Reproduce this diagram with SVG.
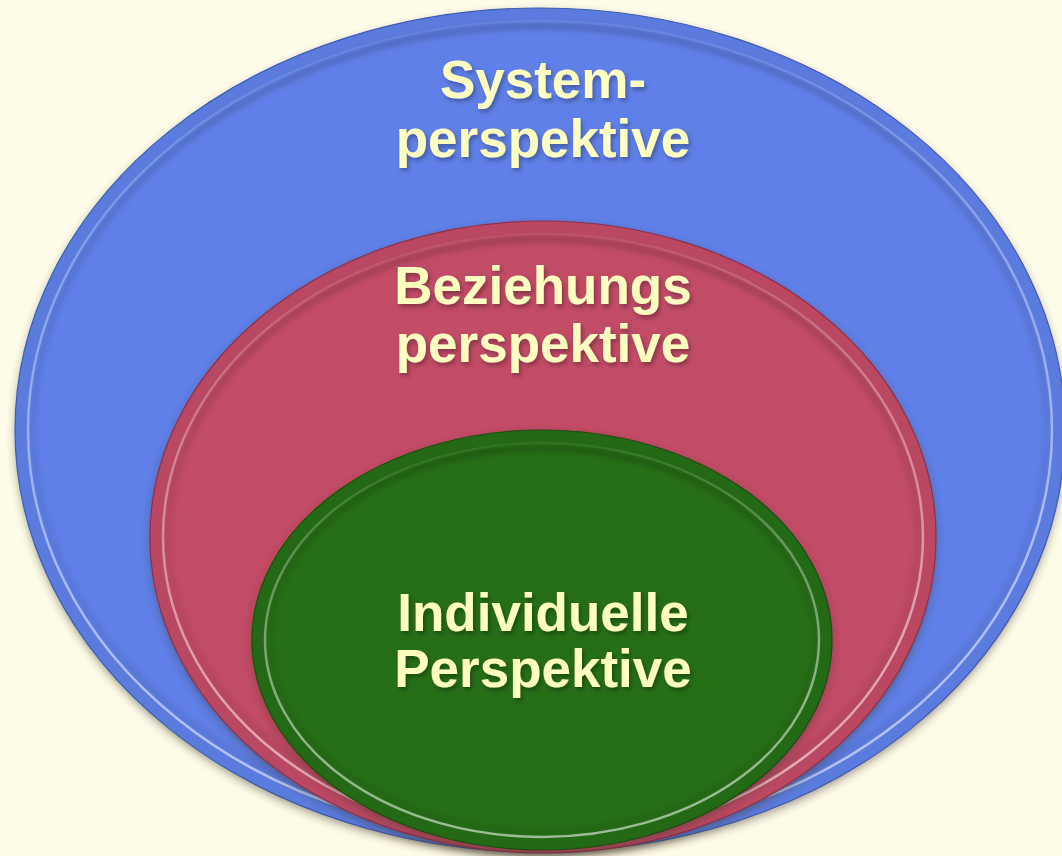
<svg xmlns="http://www.w3.org/2000/svg" width="1062" height="856" viewBox="0 0 1062 856">
  <defs>
    <style>
      .label { font-family: "Liberation Sans", Arial, sans-serif; font-weight: bold; font-size: 53px; fill: #FFFFC2; text-anchor: middle; filter: url(#textShadow); }
      .edge { fill: none; stroke-width: 1.2; }
      .rim { fill: none; stroke: url(#rimLight); stroke-width: 2.5; filter: url(#rimBlur); }
      .inner-shade { fill: none; stroke: url(#shadeGrad); stroke-width: 7; filter: url(#soft); }
      .band { fill: none; stroke: #000; stroke-opacity: 0.04; stroke-width: 12; }
    </style>
    <!-- bevel highlight: faint at the top, bright along the sides and bottom -->
    <linearGradient id="rimLight" x1="0.4" y1="0" x2="0.5" y2="1">
      <stop offset="0" stop-color="#FFFFFF" stop-opacity="0.05"/>
      <stop offset="0.3" stop-color="#FFFFFF" stop-opacity="0.3"/>
      <stop offset="0.7" stop-color="#FFFFFF" stop-opacity="0.5"/>
      <stop offset="1" stop-color="#FFFFFF" stop-opacity="0.55"/>
    </linearGradient>
    <linearGradient id="shadeGrad" x1="0.5" y1="0" x2="0.5" y2="1">
      <stop offset="0" stop-color="#000000" stop-opacity="0.16"/>
      <stop offset="0.5" stop-color="#000000" stop-opacity="0.06"/>
      <stop offset="1" stop-color="#000000" stop-opacity="0.08"/>
    </linearGradient>
    <filter id="dropShadow" x="-10%" y="-10%" width="120%" height="125%">
      <feDropShadow dx="0" dy="4" stdDeviation="4" flood-color="#3A3020" flood-opacity="0.45"/>
    </filter>
    <filter id="soft" x="-5%" y="-5%" width="110%" height="110%">
      <feGaussianBlur stdDeviation="2.5"/>
    </filter>
    <filter id="rimBlur" x="-5%" y="-5%" width="110%" height="110%">
      <feGaussianBlur stdDeviation="0.7"/>
    </filter>
    <filter id="textShadow" x="-10%" y="-20%" width="120%" height="150%">
      <feDropShadow dx="2" dy="3" stdDeviation="2" flood-color="#000000" flood-opacity="0.3"/>
    </filter>
  </defs>

  <!-- background -->
  <rect width="1062" height="856" fill="#FEFBE9"/>

  <!-- outer ring: system -->
  <g id="system">
    <ellipse cx="540" cy="430" rx="525" ry="422" fill="#5E80E8" filter="url(#dropShadow)"/>
    <ellipse class="band" cx="540" cy="430" rx="519" ry="416"/>
    <ellipse class="inner-shade" cx="540" cy="430" rx="507" ry="404"/>
    <ellipse class="rim" cx="540" cy="430" rx="512" ry="409"/>
    <ellipse class="edge" stroke="#3E5BB0" cx="540" cy="430" rx="525" ry="422"/>
    <text class="label" x="543" y="98">System-</text>
    <text class="label" x="543" y="157">perspektive</text>
  </g>

  <!-- middle ring: relationships -->
  <g id="beziehung">
    <ellipse cx="543" cy="537" rx="393" ry="316" fill="#C24B66" filter="url(#dropShadow)"/>
    <ellipse class="band" cx="543" cy="537" rx="387" ry="310"/>
    <ellipse class="inner-shade" cx="543" cy="537" rx="375" ry="298"/>
    <ellipse class="rim" cx="543" cy="537" rx="380" ry="303"/>
    <ellipse class="edge" stroke="#8E3049" cx="543" cy="537" rx="393" ry="316"/>
    <text class="label" x="543" y="304">Beziehungs</text>
    <text class="label" x="543" y="362">perspektive</text>
  </g>

  <!-- inner ring: individual -->
  <g id="individuell">
    <ellipse cx="542" cy="640" rx="290" ry="210" fill="#276E18" filter="url(#dropShadow)"/>
    <ellipse class="band" cx="542" cy="640" rx="284" ry="204"/>
    <ellipse class="inner-shade" cx="542" cy="640" rx="272" ry="192"/>
    <ellipse class="rim" cx="542" cy="640" rx="277" ry="197"/>
    <ellipse class="edge" stroke="#1B4E10" cx="542" cy="640" rx="290" ry="210"/>
    <text class="label" x="543" y="631">Individuelle</text>
    <text class="label" x="543" y="687">Perspektive</text>
  </g>
</svg>
